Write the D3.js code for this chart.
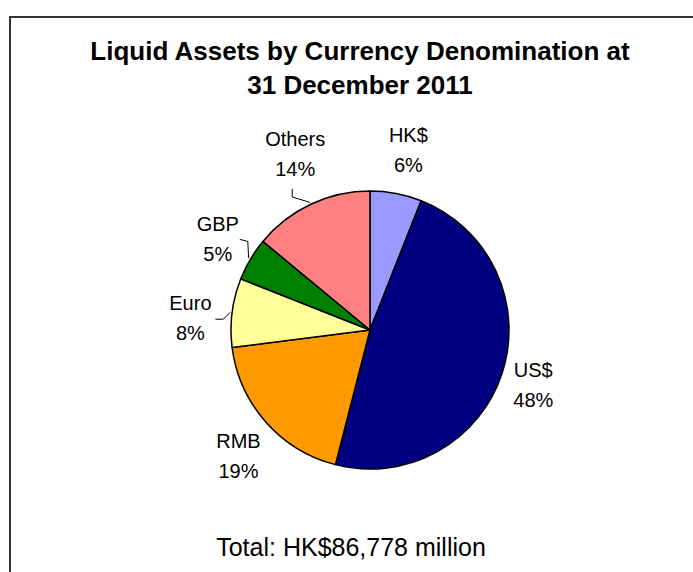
<!DOCTYPE html>
<html>
<head>
<meta charset="utf-8">
<script src="https://cdn.jsdelivr.net/npm/d3@7"></script>
<style>
	body { margin: 0; background: #fff; }
	text { font-family: "Liberation Sans", Arial, sans-serif; fill: #000; }
</style>
</head>
<body>
<div id="chart"></div>
<script>
var categories = ["HK$", "US$", "RMB", "Euro", "GBP", "Others"];
var shares = [6, 48, 19, 8, 5, 14];
var colours = ["#9999FF", "#000080", "#FF9900", "#FFFF99", "#008000", "#FF8080"];
var titleLines = ["Liquid Assets by Currency Denomination at", "31 December 2011"];
var footnote = "Total: HK$86,778 million";

(function () {
	var svgwidth = 693;
	var svgheight = 572;
	var cx = 370, cy = 330, radius = 139;

	var svg = d3.select("#chart")
		.append("svg")
		.attr("width", svgwidth)
		.attr("height", svgheight);

	// outer frame (runs off the right and bottom)
	svg.append("rect")
		.attr("x", 10)
		.attr("y", 17)
		.attr("width", 700)
		.attr("height", 600)
		.attr("fill", "none")
		.attr("stroke", "#333")
		.attr("stroke-width", 2);

	svg.selectAll(".title")
		.data(titleLines)
		.enter()
		.append("text")
		.attr("class", "title")
		.attr("x", 360)
		.attr("y", function (d, i) { return 60 + i * 34; })
		.attr("text-anchor", "middle")
		.style("font-size", "26px")
		.style("font-weight", "bold")
		.text(function (d) { return d; });

	var data = categories.map(function (c, i) {
		return { name: c, value: shares[i], colour: colours[i] };
	});

	var pie = d3.pie().sort(null).value(function (d) { return d.value; });
	var arcs = pie(data);

	var arc = d3.arc().innerRadius(0).outerRadius(radius);
	var labelArc = d3.arc().innerRadius(178).outerRadius(178);
	var edgeArc = d3.arc().innerRadius(radius + 2).outerRadius(radius + 2);

	var g = svg.append("g").attr("transform", "translate(" + cx + "," + cy + ")");

	g.selectAll("path")
		.data(arcs)
		.enter()
		.append("path")
		.attr("d", arc)
		.attr("fill", function (d) { return d.data.colour; })
		.attr("stroke", "#000")
		.attr("stroke-width", 1.5)
		.attr("stroke-linejoin", "round");

	// small nudges so labels sit where the original best-fit put them
	var nudge = {
		"HK$": [5, -5], "US$": [-6, 0], "RMB": [2, 8],
		"Euro": [-3, 10], "GBP": [1, 0], "Others": [1, -15]
	};
	// leader lines: [elbow, end] relative to label centre
	var leaders = {
		"Others": [[-3, 43], [-3, 35]],
		"GBP": [[30, 2], [22, 0]],
		"Euro": [[33, 1.5], [25, 1.5]]
	};

	arcs.forEach(function (d) {
		var c = labelArc.centroid(d);
		var n = nudge[d.data.name] || [0, 0];
		var lx = c[0] + n[0], ly = c[1] + n[1];

		var t = g.append("text")
			.attr("text-anchor", "middle")
			.style("font-size", "20px");
		t.append("tspan").attr("x", lx).attr("y", ly - 8).text(d.data.name);
		t.append("tspan").attr("x", lx).attr("y", ly + 22).text(d.data.value + "%");

		var l = leaders[d.data.name];
		if (l) {
			var s = edgeArc.centroid(d);
			g.append("polyline")
				.attr("points", [s, [lx + l[0][0], ly + l[0][1]], [lx + l[1][0], ly + l[1][1]]]
					.map(function (p) { return p.join(","); }).join(" "))
				.attr("fill", "none")
				.attr("stroke", "#000")
				.attr("stroke-width", 1);
		}
	});

	svg.append("text")
		.attr("x", 351)
		.attr("y", 556)
		.attr("text-anchor", "middle")
		.style("font-size", "25px")
		.text(footnote);
})();
</script>
</body>
</html>
